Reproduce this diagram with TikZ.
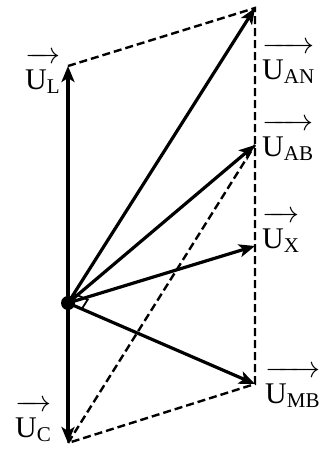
\RequirePackage{fix-cm}
\documentclass[tikz,border=0pt]{standalone}
\usepackage{amsmath}
\usepackage{fontspec}
\setmainfont{Liberation Serif}
\usepackage{tikz}
\usetikzlibrary{arrows.meta, calc}
\newcommand{\phasor}[1]{$\overrightarrow{\rule{0pt}{26pt}\text{U}_{\text{#1}}}$}

\begin{document}
\begin{tikzpicture}[x=1pt, y=-1pt, >={Stealth[length=16pt, width=13pt, inset=4pt]}]
    \tikzset{vec/.style={->, line width=3.2pt},
             aux/.style={line width=2.4pt, dash pattern=on 8pt off 4pt},
             lbl/.style={inner sep=0pt, anchor=base west, font=\fontsize{30}{33}\selectfont}}
    \useasboundingbox (0,0) rectangle (331,450);

    % end points of the phasors
    \coordinate (O)  at (68,303);
    \coordinate (L)  at (68,66);
    \coordinate (AN) at (255,8);
    \coordinate (AB) at (255,145);
    \coordinate (X)  at (255,246);
    \coordinate (MB) at (255,384);
    \coordinate (C)  at (68,443);

    % construction lines
    \draw[aux] (L) -- (AN) -- (MB) -- (C) -- (AB);

    % phasors
    \draw[vec] (O) -- (L);
    \draw[vec] (O) -- (C);
    \draw[vec] (O) -- (AN);
    \draw[vec] (O) -- (AB);
    \draw[vec] (O) -- (X);
    \draw[vec] (O) -- (MB);
    \fill (O) circle (7);

    % right angle
    \coordinate (ra1) at ($(O)!11pt!(AN)$);
    \coordinate (ra2) at ($(O)!15pt!(MB)$);
    \draw[line width=1.8pt] (ra1) -- ($(ra1)+(ra2)-(O)$) -- (ra2);

    % labels
    \node[lbl] (lL)  at (25,89)   {\phasor{L}};
    \node[lbl] (lAN) at (262,79)  {\phasor{AN}};
    \node[lbl] (lAB) at (262,156) {\phasor{AB}};
    \node[lbl] (lX)  at (262,248) {\phasor{X}};
    \node[lbl] (lMB) at (265,403) {\phasor{MB}};
    \node[lbl] (lC)  at (15,437)  {\phasor{C}};
\end{tikzpicture}
\end{document}
